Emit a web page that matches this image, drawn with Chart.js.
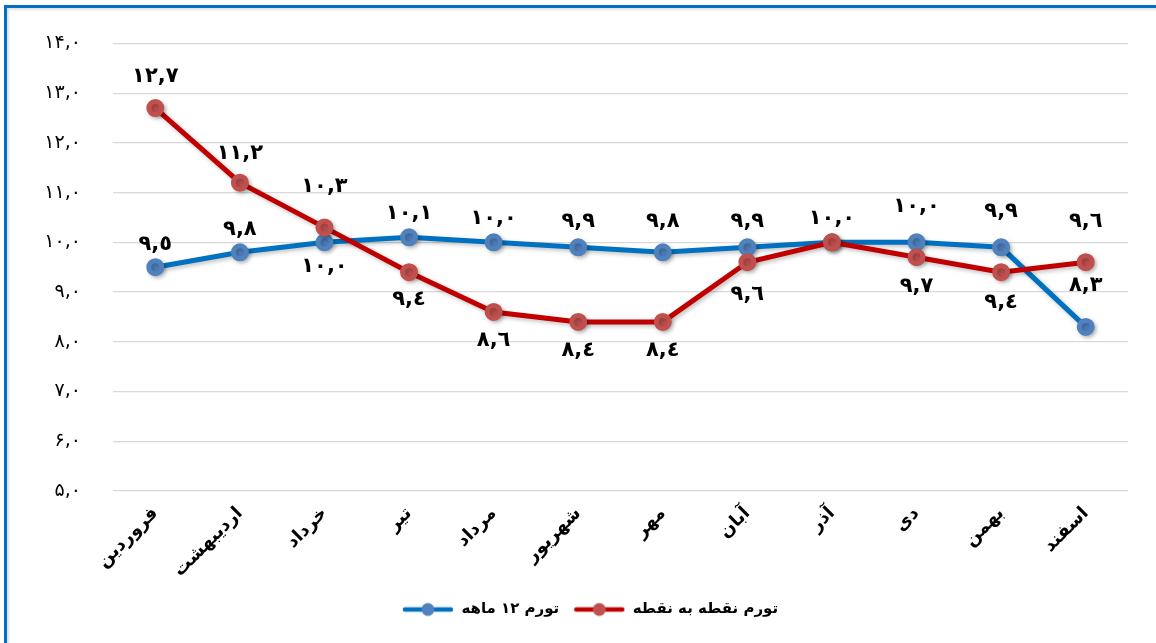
<!DOCTYPE html>
<html>
<head>
<meta charset="utf-8">
<script src="https://cdn.jsdelivr.net/npm/chart.js@4.4.1/dist/chart.umd.min.js"></script>
<style>
    html, body { margin: 0; padding: 0; background: #fff; }
    #wrap { position: relative; width: 1156px; height: 643px; overflow: hidden; }
    #frame {
        position: absolute; left: 4px; top: 5px; right: -10px; bottom: -10px;
        border-top: 3px solid #0070C0; border-left: 3px solid #0070C0;
        box-shadow: inset 2px 2px 2px rgba(0, 0, 0, 0.12);
    }
    #chart { position: absolute; left: 0; top: 0; }
</style>
</head>
<body>
<div id="wrap">
    <div id="frame"></div>
    <canvas id="chart" width="1156" height="643" style="width:1156px;height:643px"></canvas>
</div>
<script>
// data
const months = ['فروردین', 'اردیبهشت', 'خرداد', 'تیر', 'مرداد', 'شهریور', 'مهر', 'آبان', 'آذر', 'دی', 'بهمن', 'اسفند'];
const inflation12m = [9.5, 9.8, 10.0, 10.1, 10.0, 9.9, 9.8, 9.9, 10.0, 10.0, 9.9, 8.3];
const inflationP2P = [12.7, 11.2, 10.3, 9.4, 8.6, 8.4, 8.4, 9.6, 10.0, 9.7, 9.4, 9.6];
const seriesNames = ['تورم ۱۲ ماهه', 'تورم نقطه به نقطه'];
const yMin = 5, yMax = 14, yStep = 1;

const FONT = "'DejaVu Sans', sans-serif";
const faDigits = '۰۱۲۳۴۵۶۷۸۹';
const arDigits = '٠١٢٣٤٥٦٧٨٩';

function toDigits(str, set) {
    return str.replace(/[0-9]/g, d => set[+d]).replace('.', ',');
}

// legend marker: line with a dot in the middle
function legendMarker(lineColor, dotColor) {
    const c = document.createElement('canvas');
    c.width = 52; c.height = 16;
    const g = c.getContext('2d');
    g.strokeStyle = lineColor;
    g.lineWidth = 4.5;
    g.lineCap = 'round';
    g.beginPath(); g.moveTo(3, 8); g.lineTo(49, 8); g.stroke();
    g.fillStyle = dotColor;
    g.beginPath(); g.arc(26, 8, 6.5, 0, Math.PI * 2); g.fill();
    return c;
}

// soft shadow under the lines
const shadowPlugin = {
    id: 'lineShadow',
    beforeDatasetDraw(chart) {
        const ctx = chart.ctx;
        ctx.save();
        ctx.shadowColor = 'rgba(0, 0, 0, 0.25)';
        ctx.shadowBlur = 4;
        ctx.shadowOffsetX = 2;
        ctx.shadowOffsetY = 2;
    },
    afterDatasetDraw(chart) {
        chart.ctx.restore();
    }
};

// legend sits a bit right of the canvas centre
const legendShift = {
    id: 'legendShift',
    beforeDraw(chart) {
        const lg = chart.legend;
        if (!lg) return;
        lg.left = 24;
        lg.right = chart.width;
    }
};

// value labels next to the points
const valueLabels = {
    id: 'valueLabels',
    afterDatasetsDraw(chart, args, opts) {
        const ctx = chart.ctx;
        ctx.save();
        ctx.font = 'bold 21px ' + FONT;
        ctx.fillStyle = '#000';
        ctx.textAlign = 'center';
        ctx.textBaseline = 'middle';
        chart.data.datasets.forEach((ds, di) => {
            const meta = chart.getDatasetMeta(di);
            const offs = opts.offsets[di];
            meta.data.forEach((pt, i) => {
                if (offs[i] === null) return;
                ctx.fillText(toDigits(ds.data[i].toFixed(1), arDigits), pt.x, pt.y + offs[i]);
            });
        });
        ctx.restore();
    }
};

new Chart(document.getElementById('chart'), {
    type: 'line',
    data: {
        labels: months,
        datasets: [{
            label: seriesNames[0],
            data: inflation12m,
            borderColor: '#0070C0',
            backgroundColor: '#4F81BD',
            pointBackgroundColor: '#4F81BD',
            pointBorderColor: '#4F81BD',
            pointRadius: 6.5,
            borderWidth: 5,
            order: 1,
            markerImg: legendMarker('#0070C0', '#4F81BD')
        }, {
            label: seriesNames[1],
            data: inflationP2P,
            borderColor: '#C00000',
            backgroundColor: '#C0504D',
            pointBackgroundColor: '#C0504D',
            pointBorderColor: '#C0504D',
            pointRadius: 6.5,
            borderWidth: 5,
            order: 0,
            markerImg: legendMarker('#C00000', '#C0504D')
        }]
    },
    options: {
        responsive: false,
        animation: false,
        layout: { padding: { left: 0, top: 42, right: 28, bottom: 16 } },
        plugins: {
            tooltip: { enabled: false },
            legend: {
                position: 'bottom',
                labels: {
                    usePointStyle: true,
                    pointStyleWidth: 52,
                    padding: 14,
                    color: '#000',
                    font: { family: FONT, size: 15, weight: 'bold' },
                    sort: (a, b) => a.datasetIndex - b.datasetIndex,
                    generateLabels(chart) {
                        return chart.data.datasets.map((ds, i) => ({
                            text: ds.label,
                            pointStyle: ds.markerImg,
                            fillStyle: ds.borderColor,
                            strokeStyle: ds.borderColor,
                            lineWidth: 0,
                            hidden: false,
                            datasetIndex: i,
                            fontColor: '#000'
                        }));
                    }
                }
            },
            valueLabels: {
                offsets: [
                    [-23, -23, 24, -24, -24, -26, -31, -26, -24, -36, -36, -41],
                    [-32, -29, -41, 27, 29, 29, 29, 32, null, 29, 30, -41]
                ]
            }
        },
        scales: {
            y: {
                min: yMin,
                max: yMax,
                ticks: {
                    stepSize: yStep,
                    padding: 32,
                    color: '#000',
                    font: { family: FONT, size: 19 },
                    callback: v => toDigits(v.toFixed(1), faDigits)
                },
                grid: { color: '#d9d9d9', lineWidth: 1.2, drawTicks: false },
                border: { display: false },
                afterFit: s => { s.width = 113; }
            },
            x: {
                offset: true,
                grid: { display: false },
                border: { display: false },
                ticks: {
                    minRotation: 45,
                    maxRotation: 45,
                    padding: 4,
                    color: '#000',
                    font: { family: FONT, size: 18, weight: 'bold' }
                },
                afterFit: s => { s.height = 97; }
            }
        }
    },
    plugins: [shadowPlugin, legendShift, valueLabels]
});
</script>
</body>
</html>
